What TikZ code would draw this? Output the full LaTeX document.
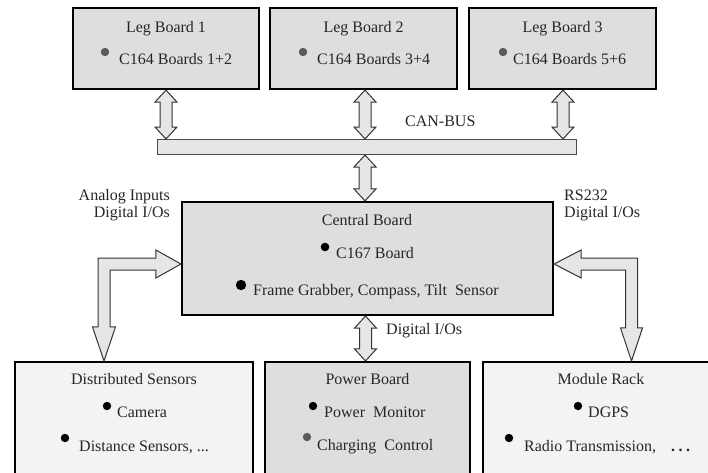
\documentclass[tikz,border=0pt]{standalone}
\usepackage{fontspec}
\setmainfont{Liberation Serif}
\usetikzlibrary{calc}
\definecolor{ink}{HTML}{262626}
\definecolor{boardgray}{HTML}{DEDEDE}
\definecolor{palegray}{HTML}{F3F3F3}
\definecolor{busgray}{HTML}{E6E6E6}
\definecolor{dotgray}{HTML}{5A5A5A}

% vertical two-headed block arrow: #1 upper tip, #2 lower tip
\newcommand\vbiarrow[2]{%
  \filldraw[fatarrow] let \p1=(#1), \p2=(#2) in
    (\x1,\y1) -- (\x1+11pt,\y1-12pt) -- (\x1+6pt,\y1-12pt)
    -- (\x1+6pt,\y2+12pt) -- (\x1+11pt,\y2+12pt) -- (\x1,\y2)
    -- (\x1-11pt,\y2+12pt) -- (\x1-6pt,\y2+12pt)
    -- (\x1-6pt,\y1-12pt) -- (\x1-11pt,\y1-12pt) -- cycle;}

% bent block arrow on the left: #1 tip pointing right, #2 tip pointing down
\newcommand\leftbend[2]{%
  \filldraw[fatarrow] let \p1=(#1), \p2=(#2) in
    (\x1,\y1) -- (\x1-25pt,\y1+14pt) -- (\x1-25pt,\y1+6pt)
    -- (\x2-6pt,\y1+6pt) -- (\x2-6pt,\y2+34pt) -- (\x2-11.5pt,\y2+34pt)
    -- (\x2,\y2) -- (\x2+11.5pt,\y2+34pt) -- (\x2+6pt,\y2+34pt)
    -- (\x2+6pt,\y1-6pt) -- (\x1-25pt,\y1-6pt) -- (\x1-25pt,\y1-14pt) -- cycle;}

% bent block arrow on the right: #1 tip pointing left, #2 tip pointing down
\newcommand\rightbend[2]{%
  \filldraw[fatarrow] let \p1=(#1), \p2=(#2) in
    (\x1,\y1) -- (\x1+27pt,\y1+14pt) -- (\x1+27pt,\y1+6pt)
    -- (\x2+6pt,\y1+6pt) -- (\x2+6pt,\y2+33pt) -- (\x2+11pt,\y2+33pt)
    -- (\x2,\y2) -- (\x2-11pt,\y2+33pt) -- (\x2-6pt,\y2+33pt)
    -- (\x2-6pt,\y1-6pt) -- (\x1+27pt,\y1-6pt) -- (\x1+27pt,\y1-14pt) -- cycle;}

\begin{document}
\begin{tikzpicture}[x=1pt,y=-1pt,
  board/.style={draw=black,line width=2.2pt,inner sep=0pt},
  bus/.style={draw=black!70,line width=1pt,fill=busgray,inner sep=0pt},
  fatarrow/.style={draw=black!80,line width=1pt,fill=busgray,line join=miter},
  lbl/.style={inner sep=0pt,text=ink,font=\fontsize{16}{19}\selectfont}]
\useasboundingbox (0,0) rectangle (708,472);
\clip (0,0) rectangle (708,472);
\fill[white] (0,0) rectangle (708,472);

% boards
\node[board,fill=boardgray,minimum width=186pt,minimum height=81pt] (leg1) at (166,48.5) {};
\node[board,fill=boardgray,minimum width=187pt,minimum height=81pt] (leg2) at (363.5,48.5) {};
\node[board,fill=boardgray,minimum width=187pt,minimum height=81pt] (leg3) at (562.5,48.5) {};
\node[bus,minimum width=419pt,minimum height=15pt] (canbus) at (366.5,147) {};
\node[board,fill=boardgray,minimum width=371pt,minimum height=113pt] (central) at (367.5,258.5) {};
\node[board,fill=palegray,minimum width=238pt,minimum height=130pt] (dist) at (134,427) {};
\node[board,fill=boardgray,minimum width=205pt,minimum height=130pt] (power) at (367.5,427) {};
\node[board,fill=palegray,minimum width=238pt,minimum height=130pt] (rack) at (602,427) {};

% block arrows
\vbiarrow{leg1.south}{leg1.south |- canbus.north}
\vbiarrow{[xshift=1.5pt]leg2.south}{[xshift=1.5pt]leg2.south |- canbus.north}
\vbiarrow{[xshift=0.5pt]leg3.south}{[xshift=0.5pt]leg3.south |- canbus.north}
\vbiarrow{[xshift=-2.5pt]central.north |- canbus.south}{[xshift=-2.5pt]central.north}
\vbiarrow{[xshift=-2pt]power.north |- central.south}{[xshift=-2pt]power.north}
\coordinate (cwest) at ([yshift=-5.5pt]central.west);
\coordinate (ceast) at ([yshift=-5.5pt]central.east);
\coordinate (distin) at ([xshift=-30pt]dist.north);
\coordinate (rackin) at ([xshift=29.5pt]rack.north);
\leftbend{cwest}{distin}
\rightbend{ceast}{rackin}

% leg boards
\node[lbl,anchor=base] (leg1t) at (166,32) {Leg Board 1};
\fill[dotgray] (105,52) circle (4.2);
\node[lbl,anchor=base west] (leg1a) at (119,64) {C164 Boards 1+2};
\node[lbl,anchor=base] (leg2t) at (363.5,32) {Leg Board 2};
\fill[dotgray] (303,52) circle (4.2);
\node[lbl,anchor=base west] (leg2a) at (317,64) {C164 Boards 3+4};
\node[lbl,anchor=base] (leg3t) at (562.5,32) {Leg Board 3};
\fill[dotgray] (503,52) circle (4.2);
\node[lbl,anchor=base west] (leg3a) at (513,64) {C164 Boards 5+6};

% interface labels
\node[lbl,anchor=base west] (canlbl) at (405,126) {CAN-BUS};
\node[lbl,anchor=base east] (anin) at (170,200) {Analog Inputs};
\node[lbl,anchor=base east] (dioleft) at (170,217) {Digital I/Os};
\node[lbl,anchor=base west] (rs) at (564,200) {RS232};
\node[lbl,anchor=base west] (dioright) at (564,217) {Digital I/Os};
\node[lbl,anchor=base west] (diomid) at (386,334) {Digital I/Os};

% central board
\node[lbl,anchor=base] (centralt) at (367,225) {Central Board};
\fill[black] (325,247) circle (4.3);
\node[lbl,anchor=base west] (centrala) at (336,258) {C167 Board};
\fill[black] (241,285) circle (5.2);
\node[lbl,anchor=base west] (centralb) at (253,295) {Frame Grabber, Compass, Tilt\ \ Sensor};

% distributed sensors
\node[lbl,anchor=base] (distt) at (134,384) {Distributed Sensors};
\fill[black] (107,406) circle (4.2);
\node[lbl,anchor=base west] (dista) at (117,417) {Camera};
\fill[black] (65,438) circle (4.2);
\node[lbl,anchor=base west] (distb) at (79,451) {Distance Sensors, ...};

% power board
\node[lbl,anchor=base] (powert) at (367.5,384) {Power Board};
\fill[black] (313,406) circle (4.2);
\node[lbl,anchor=base west] (powera) at (324,417) {Power\ \ Monitor};
\fill[dotgray] (307,437) circle (4.2);
\node[lbl,anchor=base west] (powerb) at (317,450) {Charging\ \ Control};

% module rack
\node[lbl,anchor=base] (rackt) at (601,384) {Module Rack};
\fill[black] (578,406) circle (4.2);
\node[lbl,anchor=base west] (racka) at (588,417) {DGPS};
\fill[black] (509,438) circle (4.2);
\node[lbl,anchor=base west] (rackb) at (524,451) {Radio Transmission,\hspace{15pt}\textbf{.\hspace{3.5pt}.\hspace{3.5pt}.}};
\end{tikzpicture}
\end{document}
